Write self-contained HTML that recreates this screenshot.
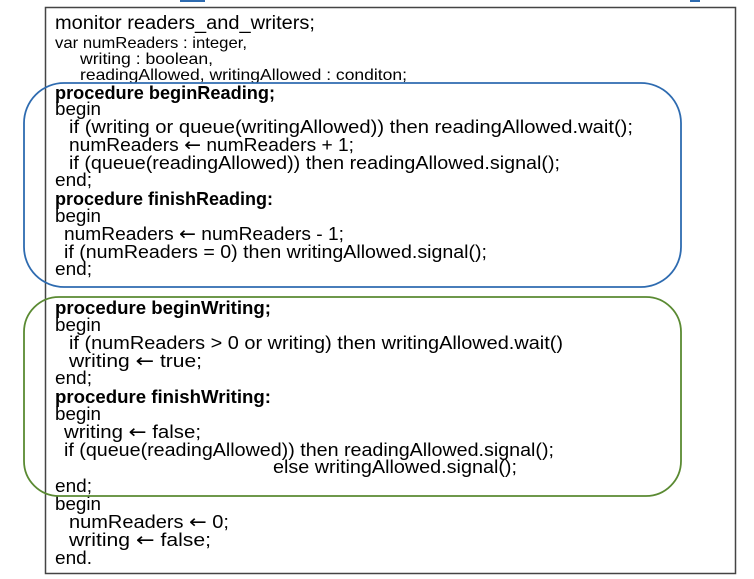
<!DOCTYPE html>
<html><head><meta charset="utf-8"><style>
html,body{margin:0;padding:0;background:#fff;width:754px;height:579px;overflow:hidden}
svg text{font-family:"Liberation Sans",sans-serif;fill:#000}
.b{font-weight:bold}
.a{font-family:"DejaVu Sans",sans-serif;font-size:19px}
</style></head><body>
<svg width="754" height="579" viewBox="0 0 754 579" xmlns="http://www.w3.org/2000/svg">
<rect x="45.5" y="7.5" width="690" height="566" fill="#fff" stroke="#444" stroke-width="1.5"/>
<line x1="180" y1="1" x2="205" y2="1" stroke="#2e6bb0" stroke-width="2"/>
<line x1="690" y1="1" x2="700" y2="1" stroke="#2e6bb0" stroke-width="2"/>
<text x="55" y="29" font-size="19" textLength="260" lengthAdjust="spacingAndGlyphs">monitor readers_and_writers;</text>
<text x="55" y="48" font-size="16" textLength="192" lengthAdjust="spacingAndGlyphs">var numReaders : integer,</text>
<text x="80" y="64" font-size="16" textLength="133" lengthAdjust="spacingAndGlyphs">writing : boolean,</text>
<text x="80" y="80" font-size="16" textLength="327" lengthAdjust="spacingAndGlyphs">readingAllowed, writingAllowed : conditon;</text>
<text x="55" y="99" font-size="18" class="b" textLength="220" lengthAdjust="spacingAndGlyphs">procedure beginReading;</text>
<text x="55" y="115" font-size="18" textLength="46" lengthAdjust="spacingAndGlyphs">begin</text>
<text x="69" y="133" font-size="18" textLength="564" lengthAdjust="spacingAndGlyphs">if (writing or queue(writingAllowed)) then readingAllowed.wait();</text>
<text x="69" y="151" font-size="18" textLength="285" lengthAdjust="spacingAndGlyphs">numReaders <tspan class="a">←</tspan> numReaders + 1;</text>
<text x="69" y="169" font-size="18" textLength="491" lengthAdjust="spacingAndGlyphs">if (queue(readingAllowed)) then readingAllowed.signal();</text>
<text x="55" y="186" font-size="18" textLength="37" lengthAdjust="spacingAndGlyphs">end;</text>
<text x="55" y="205" font-size="18" class="b" textLength="218" lengthAdjust="spacingAndGlyphs">procedure finishReading:</text>
<text x="55" y="222" font-size="18" textLength="46" lengthAdjust="spacingAndGlyphs">begin</text>
<text x="64" y="240" font-size="18" textLength="280" lengthAdjust="spacingAndGlyphs">numReaders <tspan class="a">←</tspan> numReaders - 1;</text>
<text x="64" y="258" font-size="18" textLength="423" lengthAdjust="spacingAndGlyphs">if (numReaders = 0) then writingAllowed.signal();</text>
<text x="55" y="275" font-size="18" textLength="37" lengthAdjust="spacingAndGlyphs">end;</text>
<text x="55" y="314" font-size="18" class="b" textLength="216" lengthAdjust="spacingAndGlyphs">procedure beginWriting;</text>
<text x="55" y="331" font-size="18" textLength="46" lengthAdjust="spacingAndGlyphs">begin</text>
<text x="69" y="349" font-size="18" textLength="494" lengthAdjust="spacingAndGlyphs">if (numReaders &gt; 0 or writing) then writingAllowed.wait()</text>
<text x="69" y="367" font-size="18" textLength="133" lengthAdjust="spacingAndGlyphs">writing <tspan class="a">←</tspan> true;</text>
<text x="55" y="384" font-size="18" textLength="37" lengthAdjust="spacingAndGlyphs">end;</text>
<text x="55" y="403" font-size="18" class="b" textLength="216" lengthAdjust="spacingAndGlyphs">procedure finishWriting:</text>
<text x="55" y="420" font-size="18" textLength="46" lengthAdjust="spacingAndGlyphs">begin</text>
<text x="64" y="438" font-size="18" textLength="137" lengthAdjust="spacingAndGlyphs">writing <tspan class="a">←</tspan> false;</text>
<text x="64" y="456" font-size="18" textLength="490" lengthAdjust="spacingAndGlyphs">if (queue(readingAllowed)) then readingAllowed.signal();</text>
<text x="273" y="473" font-size="18" textLength="244" lengthAdjust="spacingAndGlyphs">else writingAllowed.signal();</text>
<text x="55" y="492" font-size="18" textLength="37" lengthAdjust="spacingAndGlyphs">end;</text>
<text x="55" y="510" font-size="18" textLength="46" lengthAdjust="spacingAndGlyphs">begin</text>
<text x="69" y="528" font-size="18" textLength="160" lengthAdjust="spacingAndGlyphs">numReaders <tspan class="a">←</tspan> 0;</text>
<text x="69" y="546" font-size="18" textLength="142" lengthAdjust="spacingAndGlyphs">writing <tspan class="a">←</tspan> false;</text>
<text x="55" y="564" font-size="18" textLength="37" lengthAdjust="spacingAndGlyphs">end.</text>
<rect x="24" y="83" width="657" height="204" rx="40" ry="40" fill="none" stroke="#2e6bb0" stroke-width="1.8"/>
<rect x="24" y="297" width="657" height="199" rx="35" ry="35" fill="none" stroke="#5a8a32" stroke-width="1.8"/>
</svg>
</body></html>
